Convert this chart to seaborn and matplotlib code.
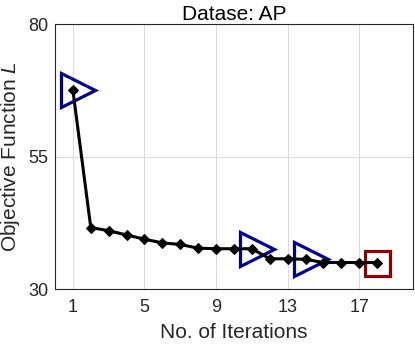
import matplotlib
matplotlib.use('Agg')
import matplotlib.pyplot as plt
import seaborn as sns
import numpy as np
import pandas as pd

# data
iterations = list(range(1, 19))
objective = [67.5, 41.6, 41.0, 40.2, 39.4, 38.7, 38.4, 37.7, 37.6, 37.6,
             37.6, 35.7, 35.7, 35.6, 35.0, 35.0, 35.0, 35.0]
tri_x = [1.3, 11.3, 14.3]
tri_y = [67.5, 37.5, 35.6]
end_x = [18]
end_y = [35.0]
x_ticks = [1, 5, 9, 13, 17]
y_ticks = [30, 55, 80]

sns.set_theme(style='white')
plt.rcParams['font.family'] = ['Liberation Sans', 'DejaVu Sans']
plt.rcParams['mathtext.fontset'] = 'custom'
plt.rcParams['mathtext.rm'] = 'Liberation Sans'
plt.rcParams['mathtext.it'] = 'Liberation Sans:italic'

df = pd.DataFrame({'iter': iterations, 'obj': objective})

fig = plt.figure(figsize=(4.15, 3.45), dpi=100)
ax = fig.add_axes([0.1325, 0.1623, 0.8625, 0.7681])

# marker overlays first, the curve on top
ax.plot(tri_x, tri_y, linestyle='none', marker='>', markersize=24,
        markerfacecolor='none', markeredgecolor='#00008B', markeredgewidth=2.3, zorder=2)
ax.plot(end_x, end_y, linestyle='none', marker='s', markersize=18,
        markerfacecolor='none', markeredgecolor='#8B0000', markeredgewidth=2.3, zorder=2)
sns.lineplot(data=df, x='iter', y='obj', ax=ax, color='black', linewidth=2.2,
             marker='D', markersize=5, markeredgecolor='black', zorder=3)

ax.set_xlim(0, 20)
ax.set_ylim(30, 80)
ax.set_xticks(x_ticks)
ax.set_yticks(y_ticks)
ax.grid(True, color='#dcdcdc', linewidth=0.8)
ax.set_axisbelow(True)
for s in ax.spines.values():
    s.set_color('#262626')
    s.set_linewidth(0.8)
ax.tick_params(direction='in', length=3, width=0.8, color='#262626',
               labelsize=13, labelcolor='#262626')
ax.tick_params(axis='x', pad=7)
ax.tick_params(axis='y', pad=5)
ax.set_xlabel('No. of Iterations', fontsize=15, color='#262626', labelpad=5)
ax.set_ylabel('Objective Function $L$', fontsize=15, color='#262626', labelpad=4)
ax.set_title('Datase: AP', fontsize=15, color='black', pad=3)

fig.savefig('out.png', dpi=100)
